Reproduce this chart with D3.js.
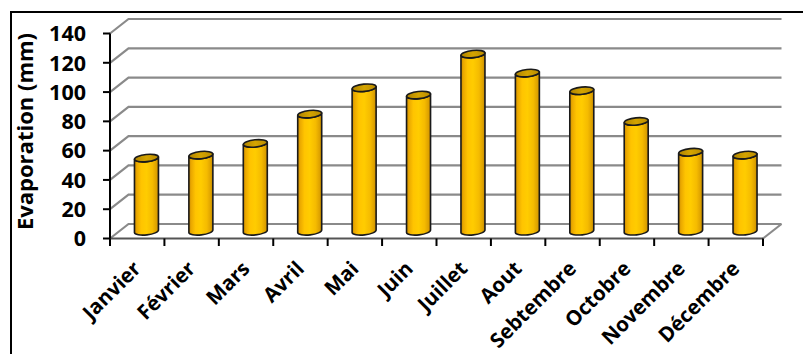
<!DOCTYPE html>
<html>
<head>
<meta charset="utf-8">
<script src="https://cdn.jsdelivr.net/npm/d3@7/dist/d3.min.js"></script>
<style>
  html, body { margin: 0; padding: 0; background: #fff; }
  svg { display: block; }
  text { font-family: "Open Sans", "DejaVu Sans", sans-serif; font-weight: 700; fill: #000; }
</style>
</head>
<body>
<svg id="chart" width="803" height="354"></svg>
<script>
// Monthly evaporation (mm)
const months = ["Janvier", "Février", "Mars", "Avril", "Mai", "Juin", "Juillet", "Aout", "Sebtembre", "Octobre", "Novembre", "Décembre"];
const evaporation = [50, 52, 60, 80, 98, 93, 121, 108, 96, 75, 54, 52];
const yTicks = [0, 20, 40, 60, 80, 100, 120, 140];
const yTitle = "Evaporation (mm)";

const svg = d3.select("#chart");
const W = 803, H = 354;

// Plot geometry: front plane and depth offset of the 3D box
const plot = { left: 110, right: 763, top: 33.5, bottom: 238.5 };
const depth = { dx: 18.5, dy: -14.5 };

const x = d3.scaleBand().domain(months).range([plot.left, plot.right]).padding(0);
const y = d3.scaleLinear().domain([0, 140]).range([plot.bottom, plot.top]);

const defs = svg.append("defs");
const body = defs.append("linearGradient").attr("id", "cylBody")
  .attr("x1", "0%").attr("x2", "100%").attr("y1", "0%").attr("y2", "0%");
[["0%", "#c98a00"], ["10%", "#eaa800"], ["28%", "#ffc400"], ["50%", "#ffcc00"], ["75%", "#f5bb00"], ["92%", "#dca000"], ["100%", "#b98000"]]
  .forEach(([o, c]) => body.append("stop").attr("offset", o).attr("stop-color", c));
const topG = defs.append("linearGradient").attr("id", "cylTop")
  .attr("x1", "0%").attr("x2", "100%").attr("y1", "0%").attr("y2", "0%");
[["0%", "#b08400"], ["50%", "#d4a400"], ["100%", "#bb8c00"]]
  .forEach(([o, c]) => topG.append("stop").attr("offset", o).attr("stop-color", c));
defs.append("filter").attr("id", "soft").append("feGaussianBlur").attr("stdDeviation", 0.5);

// Outer frame
svg.append("rect").attr("x", 11).attr("y", 12).attr("width", W).attr("height", H)
  .attr("fill", "#fff").attr("stroke", "#000").attr("stroke-width", 2);

// Side-wall and back-wall gridlines
const grid = svg.append("g").attr("filter", "url(#soft)")
  .attr("fill", "none").attr("stroke", "#8a8a8a").attr("stroke-width", 2.2);
yTicks.forEach(v => {
  const yf = y(v), yb = y(v) + depth.dy;
  grid.append("path")
    .attr("d", `M${plot.left},${yf}L${plot.left + depth.dx},${yb}L${plot.right + depth.dx},${yb}`);
});
// Floor right edge and front edge
grid.append("path").attr("d", `M${plot.right},${plot.bottom}L${plot.right + depth.dx},${plot.bottom + depth.dy}`);
svg.append("line").attr("x1", plot.left).attr("x2", plot.right)
  .attr("y1", plot.bottom).attr("y2", plot.bottom)
  .attr("stroke", "#555").attr("stroke-width", 1.8);

// Cylinders sit halfway into the depth of the box
const mx = depth.dx / 2, my = depth.dy / 2;
const bw = 24, rx = bw / 2, ry = 3.6, tilt = 1.3;
const bars = svg.append("g");
months.forEach((m, i) => {
  const v = evaporation[i];
  const cx = x(m) + x.bandwidth() / 2 + mx;
  const yt = y(v) + my, yb = y(0) + my;
  const g = bars.append("g");
  g.append("path")
    .attr("d", `M${cx - rx},${yt + tilt}L${cx - rx},${yb + tilt}` +
      `A${rx},${ry} -6 0 0 ${cx + rx},${yb - tilt}` +
      `L${cx + rx},${yt - tilt}` +
      `A${rx},${ry} -6 0 1 ${cx - rx},${yt + tilt}Z`)
    .attr("fill", "url(#cylBody)").attr("stroke", "#1a1a1a").attr("stroke-width", 1.6)
    .attr("stroke-linejoin", "round");
  g.append("ellipse")
    .attr("cx", cx).attr("cy", yt).attr("rx", rx).attr("ry", ry)
    .attr("transform", `rotate(-6 ${cx} ${yt})`)
    .attr("fill", "url(#cylTop)").attr("stroke", "#1a1a1a").attr("stroke-width", 1.6);
});

// Y axis with ticks
svg.append("line").attr("x1", plot.left).attr("x2", plot.left)
  .attr("y1", plot.top).attr("y2", plot.bottom)
  .attr("stroke", "#000").attr("stroke-width", 2);
const yAxis = svg.append("g");
yTicks.forEach(v => {
  yAxis.append("line").attr("x1", plot.left - 7).attr("x2", plot.left)
    .attr("y1", y(v)).attr("y2", y(v)).attr("stroke", "#000").attr("stroke-width", 2);
  yAxis.append("text").attr("x", 86).attr("y", y(v)).attr("dy", "0.36em")
    .attr("text-anchor", "end").style("font-size", "21.5px").text(v);
});

// X axis ticks at category boundaries
const bounds = months.map(m => x(m)).concat([plot.right]);
bounds.forEach(b => {
  svg.append("line").attr("x1", b).attr("x2", b)
    .attr("y1", plot.bottom).attr("y2", plot.bottom + 7.5)
    .attr("stroke", "#000").attr("stroke-width", 2);
});

// Rotated category labels
months.forEach(m => {
  const px = x(m) + x.bandwidth() / 2 + 5, py = 270;
  svg.append("text")
    .attr("transform", `translate(${px},${py}) rotate(-45)`)
    .attr("text-anchor", "end").style("font-size", "20.5px").text(m);
});

// Y axis title
svg.append("text")
  .attr("transform", `translate(33,131.5) rotate(-90)`)
  .attr("text-anchor", "middle").style("font-size", "22px").text(yTitle);
</script>
</body>
</html>
